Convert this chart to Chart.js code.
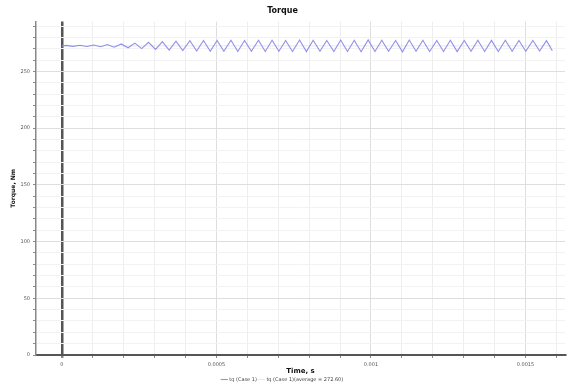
<!DOCTYPE html>
<html>
<head>
<meta charset="utf-8">
<script src="https://cdn.jsdelivr.net/npm/chart.js@4/dist/chart.umd.min.js"></script>
<style>
  html, body { margin: 0; padding: 0; background: #fff; }
  #wrap { width: 569px; height: 383px; }
</style>
</head>
<body>
<div id="wrap"><canvas id="torqueChart" width="569" height="383"></canvas></div>
<script>
// ── Daten ────────────────────────────────────────────────────

const timeS = [
  0, 0.000014, 0.000036, 0.000058, 0.000080, 0.000103, 0.000125, 0.000147, 0.000169, 0.000192,
  0.000214, 0.000236, 0.000258, 0.000280, 0.000303, 0.000325, 0.000347, 0.000369, 0.000391, 0.000414,
  0.000436, 0.000458, 0.000480, 0.000502, 0.000524, 0.000547, 0.000569, 0.000591, 0.000613, 0.000636,
  0.000658, 0.000680, 0.000702, 0.000724, 0.000746, 0.000769, 0.000791, 0.000813, 0.000835, 0.000857,
  0.000880, 0.000902, 0.000924, 0.000946, 0.000968, 0.000991, 0.001013, 0.001035, 0.001057, 0.001080,
  0.001102, 0.001124, 0.001146, 0.001168, 0.001190, 0.001213, 0.001235, 0.001257, 0.001279, 0.001302,
  0.001324, 0.001346, 0.001368, 0.001390, 0.001412, 0.001435, 0.001457, 0.001479, 0.001501, 0.001524,
  0.001546, 0.001568, 0.001587
];

const torqueNm = [
  272.5, 273.0, 272.2, 273.2, 272.0, 273.4, 271.8, 273.8, 271.4, 274.3,
  270.9, 275.0, 270.2, 275.7, 269.5, 276.3, 268.9, 276.8, 268.4, 277.2,
  268.0, 277.4, 267.8, 277.3, 267.9, 277.5, 267.7, 277.4, 267.8, 277.6,
  267.6, 277.5, 267.9, 277.3, 267.7, 277.8, 267.5, 277.6, 267.8, 277.4,
  267.6, 277.7, 267.7, 277.5, 267.4, 277.9, 267.6, 277.6, 267.8, 277.4,
  267.3, 277.7, 267.9, 277.5, 267.6, 277.4, 267.7, 277.6, 267.5, 277.3,
  267.8, 277.5, 267.6, 277.4, 267.7, 277.6, 267.8, 277.3, 267.9, 277.4,
  268.0, 277.2, 268.3
];

const avgTorque = 272.6;
const avgTime = [0, 0.001587];

const xTickValues = [0, 0.0005, 0.001, 0.0015];
const xTickLabels = ['0', '0.0005', '0.001', '0.0015'];
const yTickValues = [0, 50, 100, 150, 200, 250];
const yTickLabels = ['0', '50', '100', '150', '200', '250'];

const seriesLabel = 'tq (Case 1)';
const avgLabel = 'tq (Case 1)(average = 272.60)';

// ── Hilfsfunktionen ──────────────────────────────────────────

function near(a, b, eps) { return Math.abs(a - b) < eps; }

// Index eines Haupt-Ticks finden (-1 = Nebenraster)
function majorIdx(list, v, eps) {
  return list.findIndex(m => near(m, v, eps));
}

// ── Chart ────────────────────────────────────────────────────

const X_MIN = -0.000084, X_MAX = 0.001628;
const Y_MIN = 0, Y_MAX = 294;

new Chart(document.getElementById('torqueChart'), {
  type: 'line',
  data: {
    datasets: [
      {
        label: seriesLabel,
        data: timeS.map((t, i) => ({ x: t, y: torqueNm[i] })),
        borderColor: '#9090e6',
        borderWidth: 1.1,
        pointRadius: 0,
        tension: 0,
        pointStyle: 'line'
      },
      {
        label: avgLabel,
        data: avgTime.map(t => ({ x: t, y: avgTorque })),
        borderColor: 'rgba(175,175,235,0.3)',
        borderWidth: 1,
        pointRadius: 0,
        pointStyle: 'line'
      }
    ]
  },
  options: {
    responsive: false,
    animation: false,
    layout: { padding: { left: 0, right: 4, top: 0, bottom: -9 } },
    plugins: {
      title: {
        display: true,
        text: 'Torque',
        color: '#111',
        font: { family: 'DejaVu Sans', size: 8, weight: 'bold' },
        padding: { top: 6, bottom: 6 }
      },
      legend: {
        position: 'bottom',
        labels: {
          usePointStyle: true,
          boxWidth: 6,
          boxHeight: 5,
          padding: 2,
          color: '#444',
          font: { family: 'DejaVu Sans', size: 5 }
        }
      },
      tooltip: { enabled: false }
    },
    scales: {
      x: {
        type: 'linear',
        min: X_MIN,
        max: X_MAX,
        afterBuildTicks: scale => {
          const ticks = [];
          for (let k = 0; k <= 16; k++) ticks.push({ value: k * 0.0001 });
          scale.ticks = ticks;
        },
        afterFit: scale => { scale.height = 20; },
        ticks: {
          autoSkip: false,
          maxRotation: 0,
          padding: 4,
          color: '#555',
          font: { family: 'DejaVu Sans', size: 5 },
          callback: v => {
            const i = majorIdx(xTickValues, v, 1e-9);
            return i >= 0 ? xTickLabels[i] : '';
          }
        },
        grid: {
          drawTicks: true,
          tickLength: 3,
          color: c => {
            const v = c.tick ? c.tick.value : null;
            if (v !== null && near(v, 0, 1e-9)) return '#555';
            return majorIdx(xTickValues, v, 1e-9) >= 0 ? '#dedede' : '#eeeeee';
          },
          lineWidth: c => (c.tick && near(c.tick.value, 0, 1e-9)) ? 2.5 : 1,
          tickColor: '#888'
        },
        border: { color: '#555', width: 2 },
        title: {
          display: true,
          text: 'Time, s',
          color: '#111',
          font: { family: 'DejaVu Sans', size: 7, weight: 'bold' },
          padding: { top: 0, bottom: 0 }
        }
      },
      y: {
        type: 'linear',
        min: Y_MIN,
        max: Y_MAX,
        afterBuildTicks: scale => {
          const ticks = [];
          for (let k = 0; k <= 29; k++) ticks.push({ value: k * 10 });
          scale.ticks = ticks;
        },
        afterFit: scale => { scale.width = 36; },
        ticks: {
          autoSkip: false,
          padding: 3,
          color: '#555',
          font: { family: 'DejaVu Sans', size: 5 },
          callback: v => {
            const i = majorIdx(yTickValues, v, 1e-6);
            return i >= 0 ? yTickLabels[i] : '';
          }
        },
        grid: {
          tickLength: 3,
          color: c => {
            const v = c.tick ? c.tick.value : null;
            return majorIdx(yTickValues, v, 1e-6) >= 0 ? '#dedede' : '#f2f2f2';
          },
          tickColor: '#888'
        },
        border: { color: '#888', width: 1.5 },
        title: {
          display: true,
          text: 'Torque, Nm',
          color: '#111',
          font: { family: 'DejaVu Sans', size: 6, weight: 'bold' },
          padding: { top: 10, bottom: 0 }
        }
      }
    }
  }
});
</script>
</body>
</html>
